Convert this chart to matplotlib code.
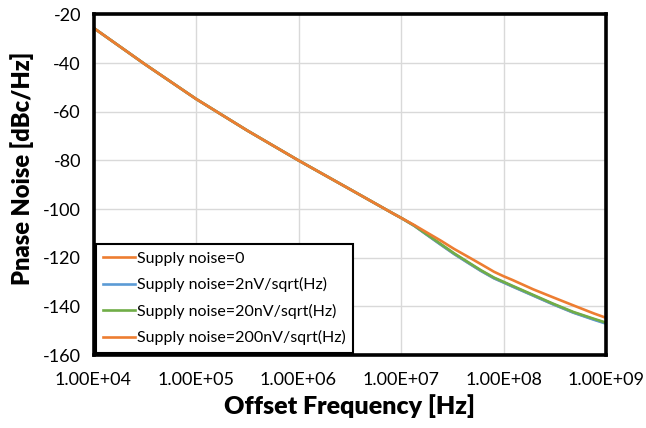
import matplotlib
matplotlib.use("Agg")
import matplotlib.pyplot as plt
from matplotlib.ticker import FixedLocator, FixedFormatter

plt.rcParams['font.family'] = ['Lato', 'DejaVu Sans']

# Offset frequency grid [Hz]: half decades below 10 MHz, finer above
freq = [1e4, 3.162e4, 1e5, 3.162e5, 1e6, 3.162e6, 8.6e6, 1e7,
        1.35e7, 1.8e7, 2.45e7, 3.3e7, 4.5e7, 6e7, 8.1e7, 1e8,
        1.23e8, 1.95e8, 3.05e8, 4.8e8, 7.6e8, 1e9]

# Phase noise [dBc/Hz] for each supply-noise level
pn_0 = [-25.5, -40.4, -54.7, -67.7, -80.0, -91.8, -102.1, -103.6,
        -106.9, -110.6, -114.6, -118.4, -122.0, -125.3, -128.4, -130.1,
        -131.8, -135.5, -139.1, -142.5, -145.3, -146.9]
pn_2n = [-25.5, -40.4, -54.7, -67.7, -80.0, -91.8, -102.1, -103.6,
         -106.9, -110.7, -114.7, -118.5, -122.1, -125.4, -128.5, -130.2,
         -131.9, -135.6, -139.2, -142.6, -145.5, -147.1]
pn_20n = [-25.5, -40.4, -54.7, -67.7, -80.0, -91.8, -102.1, -103.6,
          -106.8, -110.5, -114.4, -118.2, -121.8, -125.1, -128.2, -129.9,
          -131.6, -135.3, -138.9, -142.3, -145.1, -146.7]
pn_200n = [-25.5, -40.4, -54.7, -67.7, -80.0, -91.8, -102.1, -103.6,
           -106.6, -109.7, -113.0, -116.4, -119.6, -122.6, -125.8, -127.6,
           -129.2, -133.0, -136.3, -139.6, -142.9, -144.7]

labels = ["Supply noise=0", "Supply noise=2nV/sqrt(Hz)",
          "Supply noise=20nV/sqrt(Hz)", "Supply noise=200nV/sqrt(Hz)"]
colors = ["#ED7D31", "#5B9BD5", "#70AD47", "#ED7D31"]

x_ticks = [1e4, 1e5, 1e6, 1e7, 1e8, 1e9]
x_ticklabels = ["1.00E+04", "1.00E+05", "1.00E+06", "1.00E+07", "1.00E+08", "1.00E+09"]
y_ticks = [-160, -140, -120, -100, -80, -60, -40, -20]

W, H = 646, 428
fig = plt.figure(figsize=(W / 100, H / 100), dpi=100)
L, R, T, B = 93.5, 606, 14.5, 355
ax = fig.add_axes([L / W, (H - B) / H, (R - L) / W, (B - T) / H])

for ys, c, lab in zip([pn_0, pn_2n, pn_20n, pn_200n], colors, labels):
    ax.plot(freq, ys, color=c, lw=1.9, label=lab, solid_joinstyle='round')

ax.set_xscale('log')
ax.set_xlim(1e4, 1e9)
ax.set_ylim(-160, -20)
ax.xaxis.set_major_locator(FixedLocator(x_ticks))
ax.xaxis.set_major_formatter(FixedFormatter(x_ticklabels))
ax.xaxis.set_minor_locator(FixedLocator([]))
ax.set_yticks(y_ticks)
ax.set_yticklabels([str(v) for v in y_ticks])

ax.grid(True, color="#D9D9D9", lw=1.0)
ax.set_axisbelow(True)
ax.tick_params(axis='both', length=0, labelsize=13, colors='black')
ax.tick_params(axis='x', pad=12)
ax.tick_params(axis='y', pad=9)
for s in ax.spines.values():
    s.set_linewidth(2.6)
    s.set_color('black')

ax.set_xlabel("Offset Frequency [Hz]", fontsize=18, fontweight='heavy', labelpad=5)
ax.set_ylabel("Pnase Noise [dBc/Hz]", fontsize=17, fontweight='heavy')
ax.yaxis.set_label_coords(-0.117, 0.549)

leg = ax.legend(loc='lower left', bbox_to_anchor=(0.0, 0.0), borderaxespad=0.15,
                fontsize=11.5, frameon=True, fancybox=False, edgecolor='black',
                handlelength=2.0, handletextpad=0.1, labelspacing=0.72,
                borderpad=0.45)
leg.get_frame().set_linewidth(1.5)
leg.get_frame().set_alpha(1)

fig.savefig("out.png", dpi=100)
